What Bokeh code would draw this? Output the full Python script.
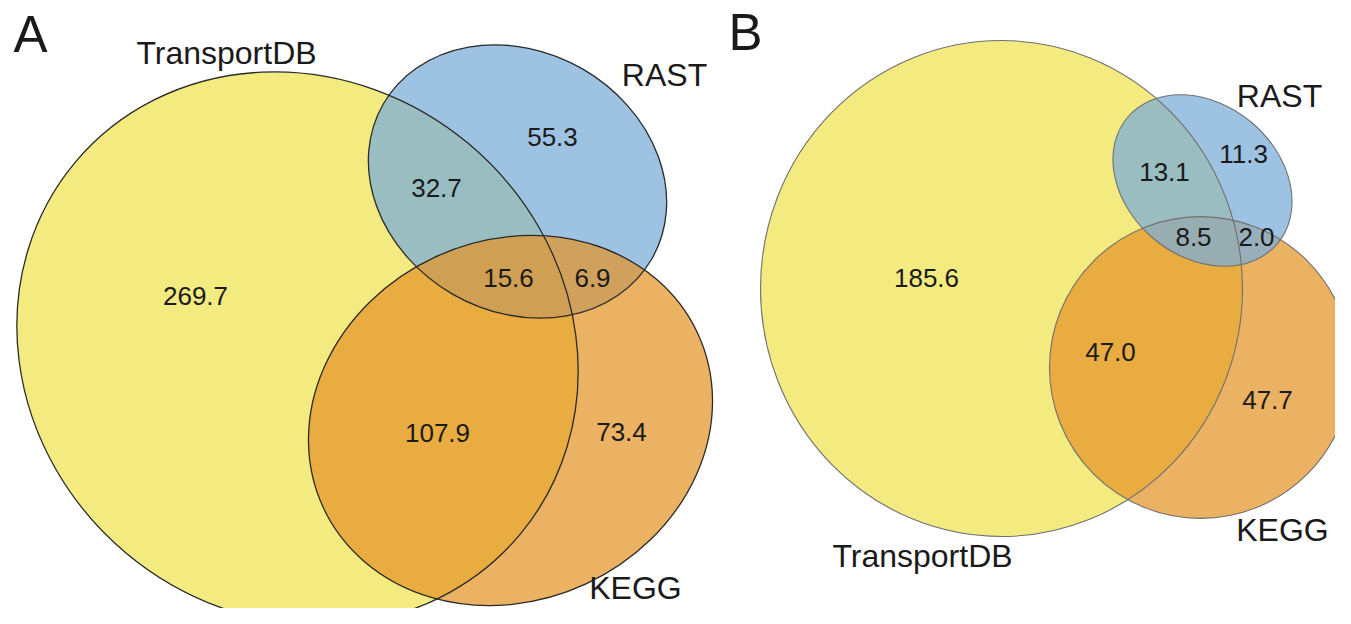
from bokeh.plotting import figure
from bokeh.models import Range1d
from bokeh.embed import file_html
from bokeh.resources import INLINE
from bokeh.core.properties import value

# ---------------- data ----------------
sets = ["TransportDB", "RAST", "KEGG"]
panels = ["A", "B"]
# region order: T only, T&R, R only, T&R&K, R&K, T&K, K only
region_names = ["T", "TR", "R", "TRK", "RK", "TK", "K"]
values_A = [269.7, 32.7, 55.3, 15.6, 6.9, 107.9, 73.4]
values_B = [185.6, 13.1, 11.3, 8.5, 2.0, 47.0, 47.7]

# ---------------- layout (reference pixel coords, y down) ----------------
H = 624
# ellipse: cx, cy, width, height, angle(deg, ccw)
ell_A = {"TransportDB": (297, 348, 580, 534, -40),
         "RAST": (517, 181, 310, 260, -30),
         "KEGG": (510, 420, 413, 360, 25)}
ell_B = {"TransportDB": (1001, 288, 482, 496, 0),
         "RAST": (1202, 180, 196, 152, -40),
         "KEGG": (1200, 367, 302, 302, 0)}
order_A = ["TransportDB", "RAST", "KEGG"]
order_B = ["TransportDB", "KEGG", "RAST"]

num_pos_A = [(195, 296), (436, 188), (552, 137), (508, 278), (592, 278), (437, 433), (621, 432)]
num_pos_B = [(926, 278), (1164, 172), (1243, 154), (1193, 237), (1256, 237), (1110, 352), (1267, 400)]

# (x centre, baseline y)
set_lab_A = [(226, 65), (664, 87), (635, 600)]
set_lab_B = [(922, 568), (1279, 108), (1282, 542)]
panel_lab = [(13, 53), (728, 51)]

fills = {"TransportDB": ("#F3EA80", 1.0),
         "RAST": ("#7CAED8", 0.75),
         "KEGG": ("#E39428", 0.72)}
edge_A = ("#2a2a2a", 1.3)
edge_B = ("#707070", 1.1)

FONT = "Liberation Sans"
TXT = "#1a1a1a"
SHIFT = 0.38  # em; compensates the svg baseline offset

W, HH = 1335, 608
p = figure(width=W, height=HH, output_backend="svg", toolbar_location=None,
           x_range=Range1d(0, W), y_range=Range1d(H - HH, H),
           x_axis_location=None, y_axis_location=None, min_border=0)
p.grid.visible = False
p.outline_line_color = None
p.background_fill_color = "white"
p.border_fill_color = "white"


def Y(y):
    return H - y


def draw_panel(ell, order, edge):
    for name in order:
        cx, cy, w, h, a = ell[name]
        col, al = fills[name]
        p.ellipse(x=[cx], y=[Y(cy)], width=[w], height=[h], angle=[a],
                  angle_units="deg", fill_color=col, fill_alpha=al, line_color=None)
    for name in order:
        cx, cy, w, h, a = ell[name]
        p.ellipse(x=[cx], y=[Y(cy)], width=[w], height=[h], angle=[a],
                  angle_units="deg", fill_color=None, line_color=edge[0],
                  line_width=edge[1])


draw_panel(ell_A, order_A, edge_A)
draw_panel(ell_B, order_B, edge_B)

# region values
fs = 26
for vals, pos in ((values_A, num_pos_A), (values_B, num_pos_B)):
    p.text(x=[q[0] for q in pos], y=[Y(q[1] + 9 - SHIFT * fs) for q in pos],
           text=[f"{v:.1f}" for v in vals], text_font=value(FONT),
           text_font_size=f"{fs}px", text_color=TXT, text_align="center",
           text_baseline="alphabetic")

# set labels
fs = 32
for pos in (set_lab_A, set_lab_B):
    p.text(x=[q[0] for q in pos], y=[Y(q[1] - SHIFT * fs) for q in pos], text=sets,
           text_font=value(FONT), text_font_size=f"{fs}px", text_color=TXT,
           text_align="center", text_baseline="alphabetic")

# panel letters
fs = 51
p.text(x=[q[0] for q in panel_lab], y=[Y(q[1] - SHIFT * fs) for q in panel_lab], text=panels,
       text_font=value(FONT), text_font_size=f"{fs}px", text_color=TXT,
       text_align="left", text_baseline="alphabetic")

open("out.html", "w").write(file_html(p, INLINE))
